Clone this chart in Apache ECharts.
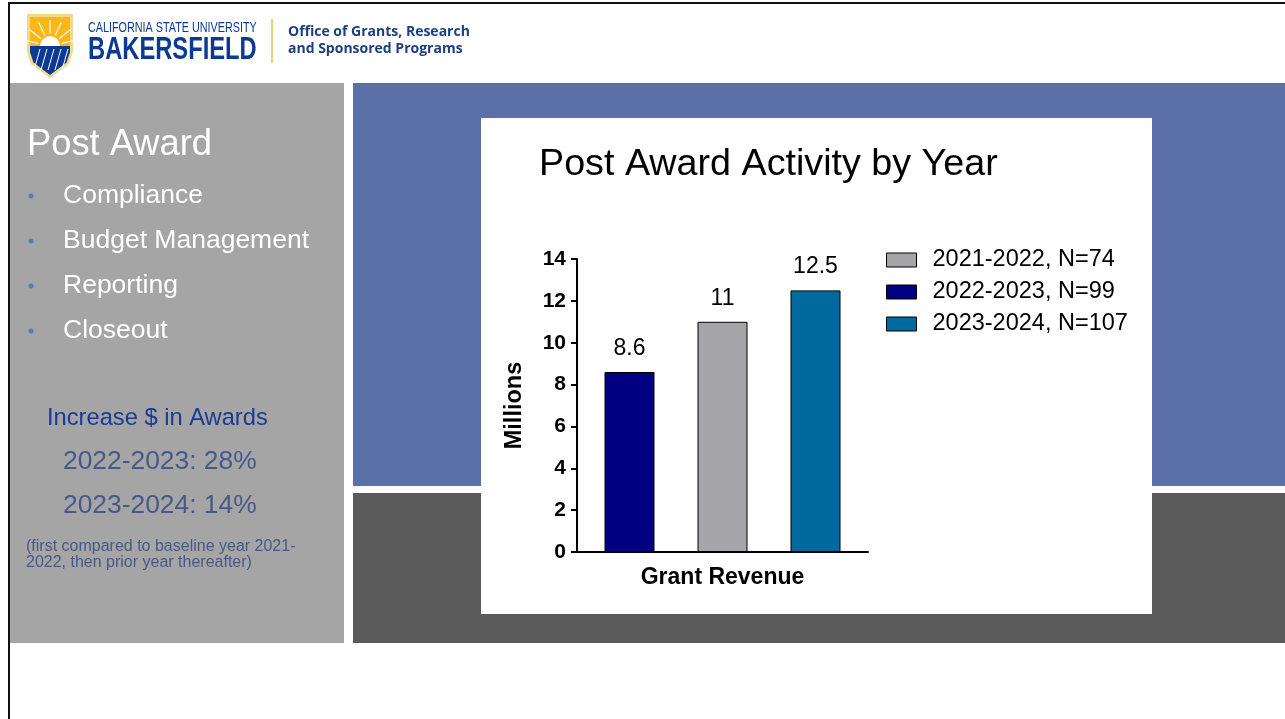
<!DOCTYPE html>
<html>
<head>
<meta charset="utf-8">
<script src="https://cdn.jsdelivr.net/npm/echarts@6/dist/echarts.min.js"></script>
<style>
html,body{margin:0;padding:0;background:#fff;}
#chart{width:1285px;height:719px;}
</style>
</head>
<body>
<div id="chart"></div>
<script>
// ---- data ----
var categories = ['Grant Revenue'];
var seriesNames = ['2022-2023, N=99', '2021-2022, N=74', '2023-2024, N=107'];
var seriesValues = [[8.6], [11], [12.5]];
var seriesColors = ['#000080', '#a6a6aa', '#006a9e'];
var legendOrder = ['2021-2022, N=74', '2022-2023, N=99', '2023-2024, N=107'];
var yTicks = [0, 2, 4, 6, 8, 10, 12, 14];
var chartTitle = 'Post Award Activity by Year';
var yAxisName = 'Millions';
var slideTitle = 'Post Award';
var bullets = ['Compliance', 'Budget Management', 'Reporting', 'Closeout'];
var increaseHeading = 'Increase $ in Awards';
var increaseLines = ['2022-2023: 28%', '2023-2024: 14%'];
var footnoteLines = ['(first compared to baseline year 2021-', '2022, then prior year thereafter)'];

var FONT = '"Liberation Sans", Arial, sans-serif';

// ---- slide decorations ----
var graphics = [];
function rect(x, y, w, h, color, z) {
  graphics.push({type: 'rect', shape: {x: x, y: y, width: w, height: h}, style: {fill: color}, z: z == null ? -10 : z, silent: true});
}
function text(x, y, str, size, color, opts) {
  opts = opts || {};
  graphics.push({
    type: 'text', x: x, y: y, z: 5, silent: true,
    scaleX: opts.scaleX || 1,
    style: {
      text: str, fill: color, font: (opts.weight || 'normal') + ' ' + size + 'px ' + (opts.family || FONT),
      textVerticalAlign: 'middle', textAlign: opts.align || 'left'
    }
  });
}
// borders
rect(9, 2, 1276, 2, '#111', -5);
rect(8, 2, 2, 717, '#111', -5);
// panels
rect(10, 83, 334, 560, '#a5a5a5');
rect(353, 83, 932, 403, '#5a70a7');
rect(353, 493, 932, 150, '#5a5a5a');
rect(481, 118, 671, 496, '#ffffff', -9);

// logo shield
graphics.push({type: 'polygon', z: 1, silent: true,
  shape: {points: [[27, 14], [73, 14], [73, 52], [69, 64], [50, 78], [31, 64], [27, 52]]},
  style: {fill: '#f2d98a'}});
graphics.push({type: 'polygon', z: 2, silent: true,
  shape: {points: [[30, 17], [70, 17], [70, 46], [30, 46]]},
  style: {fill: '#fbb617'}});
graphics.push({type: 'polygon', z: 2, silent: true,
  shape: {points: [[30, 46], [70, 46], [70, 52], [66.5, 62.5], [50, 75], [33.5, 62.5], [30, 52]]},
  style: {fill: '#0b3a94'}});
graphics.push({type: 'sector', z: 3, silent: true,
  shape: {cx: 50, cy: 46, r0: 0, r: 10, startAngle: Math.PI, endAngle: 2 * Math.PI},
  style: {fill: '#ffffff'}});
for (var i = 0; i < 7; i++) {
  var a = Math.PI + (i + 0.5) * Math.PI / 7;
  graphics.push({type: 'line', z: 3, silent: true,
    shape: {x1: 50 + 12 * Math.cos(a), y1: 46 + 12 * Math.sin(a), x2: 50 + 26 * Math.cos(a), y2: 46 + 26 * Math.sin(a)},
    style: {stroke: '#ffffff', lineWidth: 1.2}});
}
for (var j = 0; j < 5; j++) {
  graphics.push({type: 'line', z: 3, silent: true,
    shape: {x1: 40 + j * 7, y1: 49, x2: 34 + j * 7, y2: 70},
    style: {stroke: '#ffffff', lineWidth: 1}});
}
// logo text
text(88, 28, 'CALIFORNIA STATE UNIVERSITY', 15, '#0b3a94', {scaleX: 0.72});
text(88, 50, 'BAKERSFIELD', 31, '#0b3a94', {weight: 'bold', scaleX: 0.765});
rect(271, 19, 2, 44, '#e8cf7a', 1);
text(288, 32, 'Office of Grants, Research', 14, '#1d3f7f', {weight: 'bold', family: '"Open Sans", sans-serif'});
text(288, 49, 'and Sponsored Programs', 14, '#1d3f7f', {weight: 'bold', family: '"Open Sans", sans-serif'});

// left panel text
text(27, 145, slideTitle, 36.3, '#ffffff');
bullets.forEach(function (b, k) {
  var y = 196 + k * 45;
  graphics.push({type: 'circle', z: 5, silent: true, shape: {cx: 31, cy: y, r: 2.5}, style: {fill: '#5b78bf'}});
  text(63, y, b, 26.5, '#ffffff');
});
text(47, 418, increaseHeading, 23.7, '#1a3a98');
increaseLines.forEach(function (s, k) { text(63, 462 + k * 44, s, 26.4, '#46598a'); });
footnoteLines.forEach(function (s, k) { text(26, 547 + k * 16, s, 16, '#46598a'); });

// ---- chart ----
var chart = echarts.init(document.getElementById('chart'));
var series = seriesNames.map(function (n, k) {
  return {
    name: n, type: 'bar', data: seriesValues[k], barWidth: 50, barGap: '86%',
    itemStyle: {color: seriesColors[k], borderColor: '#000', borderWidth: 1},
    label: {show: true, position: 'top', distance: 12, fontFamily: FONT, fontSize: 23, color: '#000'}
  };
});
chart.setOption({
  backgroundColor: '#ffffff',
  animation: false,
  title: {text: chartTitle, left: 534, top: 141, textStyle: {fontFamily: FONT, fontSize: 37.7, fontWeight: 'normal', color: '#000'}},
  legend: {
    data: legendOrder, orient: 'vertical', left: 881, top: 243, itemWidth: 30, itemHeight: 14, itemGap: 8,
    icon: 'rect',
    itemStyle: {borderColor: '#000', borderWidth: 1},
    textStyle: {fontFamily: FONT, fontSize: 23.5, color: '#000', padding: [0, 0, 0, 11]}
  },
  grid: {left: 577, top: 259, width: 291, height: 293, containLabel: false},
  xAxis: {
    type: 'category', data: categories,
    axisLine: {show: true, lineStyle: {color: '#000', width: 2}},
    axisTick: {show: false},
    axisLabel: {fontFamily: FONT, fontSize: 23, fontWeight: 'bold', color: '#000', margin: 14}
  },
  yAxis: {
    type: 'value', min: yTicks[0], max: yTicks[yTicks.length - 1], interval: yTicks[1] - yTicks[0],
    name: yAxisName, nameLocation: 'middle', nameRotate: 90, nameGap: 50,
    nameTextStyle: {fontFamily: FONT, fontSize: 23.5, fontWeight: 'bold', color: '#000'},
    axisLine: {show: true, lineStyle: {color: '#000', width: 2}},
    axisTick: {show: true, length: 6, lineStyle: {color: '#000', width: 2}},
    axisLabel: {fontFamily: FONT, fontSize: 21, fontWeight: 'bold', color: '#000', margin: 11},
    splitLine: {show: false}
  },
  graphic: graphics,
  series: series
});
</script>
</body>
</html>
